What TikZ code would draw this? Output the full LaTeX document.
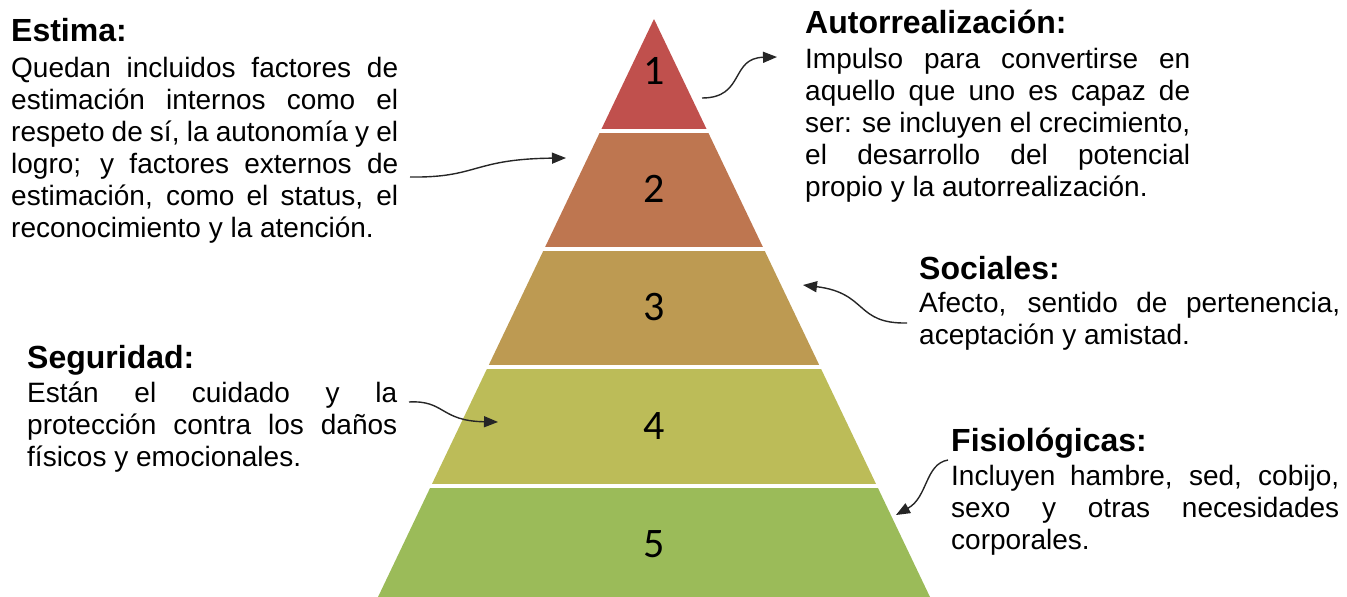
\documentclass[tikz,border=0pt]{standalone}
\usepackage{fontspec}
\setmainfont{Liberation Sans}
\newfontfamily\numfont{Carlito}
\usetikzlibrary{arrows.meta}
\definecolor{tierA}{HTML}{C0504D}
\definecolor{tierB}{HTML}{BE7650}
\definecolor{tierC}{HTML}{BD9A52}
\definecolor{tierD}{HTML}{BCBC58}
\definecolor{tierE}{HTML}{9BBB59}
\newcommand{\jl}[2]{\hbox{\makebox[#1][s]{#2}}}
\newcommand{\lastln}[1]{\hbox{#1}}
\newcommand{\blk}[1]{\vtop{\baselineskip=32pt\lineskiplimit=-100pt\lineskip=0pt #1}}
\tikzset{
  head/.style={anchor=base west,inner sep=0pt,font=\fontsize{32}{32}\selectfont\bfseries},
  body/.style={anchor=base west,inner sep=0pt,font=\fontsize{28}{32}\selectfont},
  num/.style={inner sep=0pt,font=\numfont\fontsize{42}{42}\selectfont},
  conn/.style={line width=1.4pt,black!85,-{Triangle[length=14pt,width=11pt]}}
}
\begin{document}
\begin{tikzpicture}[x=1pt,y=-1pt]
\useasboundingbox (0,0) rectangle (1347,597);
% pyramid
\begin{scope}
\clip (654,19) -- (930,597) -- (378,597) -- cycle;
\fill[tierA] (370,10) rectangle (940,129);
\fill[tierB] (370,133) rectangle (940,247);
\fill[tierC] (370,251) rectangle (940,365);
\fill[tierD] (370,369) rectangle (940,484);
\fill[tierE] (370,488) rectangle (940,600);
\end{scope}
\node[num] (n1) at (654,71) {1};
\node[num] (n2) at (654,189) {2};
\node[num] (n3) at (654,307) {3};
\node[num] (n4) at (654,426) {4};
\node[num] (n5) at (654,544) {5};
% Estima
\node[head] (hE) at (11,41) {Estima:};
\node[body] (bE) at (11,77) {\blk{%
\jl{387pt}{Quedan incluidos factores de}
\jl{387pt}{estimación internos como el}
\jl{387pt}{respeto de sí, la autonomía y el}
\jl{387pt}{logro; y factores externos de}
\jl{387pt}{estimación, como el status, el}
\lastln{reconocimiento y la atención.}}};
% Autorrealizacion
\node[head] (hA) at (805,34) {Autorrealización:};
\node[body] (bA) at (805,68) {\blk{%
\jl{385pt}{Impulso para convertirse en}
\jl{385pt}{aquello que uno es capaz de}
\jl{385pt}{ser: se incluyen el crecimiento,}
\jl{385pt}{el desarrollo del potencial}
\lastln{propio y la autorrealización.}}};
% Sociales
\node[head] (hS) at (919,279) {Sociales:};
\node[body] (bS) at (919,312) {\blk{%
\jl{421pt}{Afecto, sentido de pertenencia,}
\lastln{aceptación y amistad.}}};
% Seguridad
\node[head] (hG) at (27,368) {Seguridad:};
\node[body] (bG) at (27,402) {\blk{%
\jl{370pt}{Están el cuidado y la}
\jl{370pt}{protección contra los daños}
\lastln{físicos y emocionales.}}};
% Fisiologicas
\node[head] (hF) at (951,451) {Fisiológicas:};
\node[body] (bF) at (951,485) {\blk{%
\jl{388pt}{Incluyen hambre, sed, cobijo,}
\jl{388pt}{sexo y otras necesidades}
\lastln{corporales.}}};
% connectors
\coordinate (aAs) at (702,98);  \coordinate (aAt) at (777,57);
\coordinate (aEs) at (410,177); \coordinate (aEt) at (566,158);
\coordinate (aSs) at (907,323); \coordinate (aSt) at (803,285);
\coordinate (aGs) at (409,402); \coordinate (aGt) at (498,422);
\coordinate (aFs) at (948,460); \coordinate (aFt) at (896,515);
\draw[conn] (aAs) .. controls (745,98) and (730,58) .. (aAt);
\draw[conn] (aEs) .. controls (478,178) and (472,159) .. (aEt);
\draw[conn] (aSs) .. controls (855,324) and (868,293) .. (aSt);
\draw[conn] (aGs) .. controls (445,400) and (440,421) .. (aGt);
\draw[conn] (aFs) .. controls (925,464) and (928,497) .. (aFt);
\end{tikzpicture}
\end{document}
